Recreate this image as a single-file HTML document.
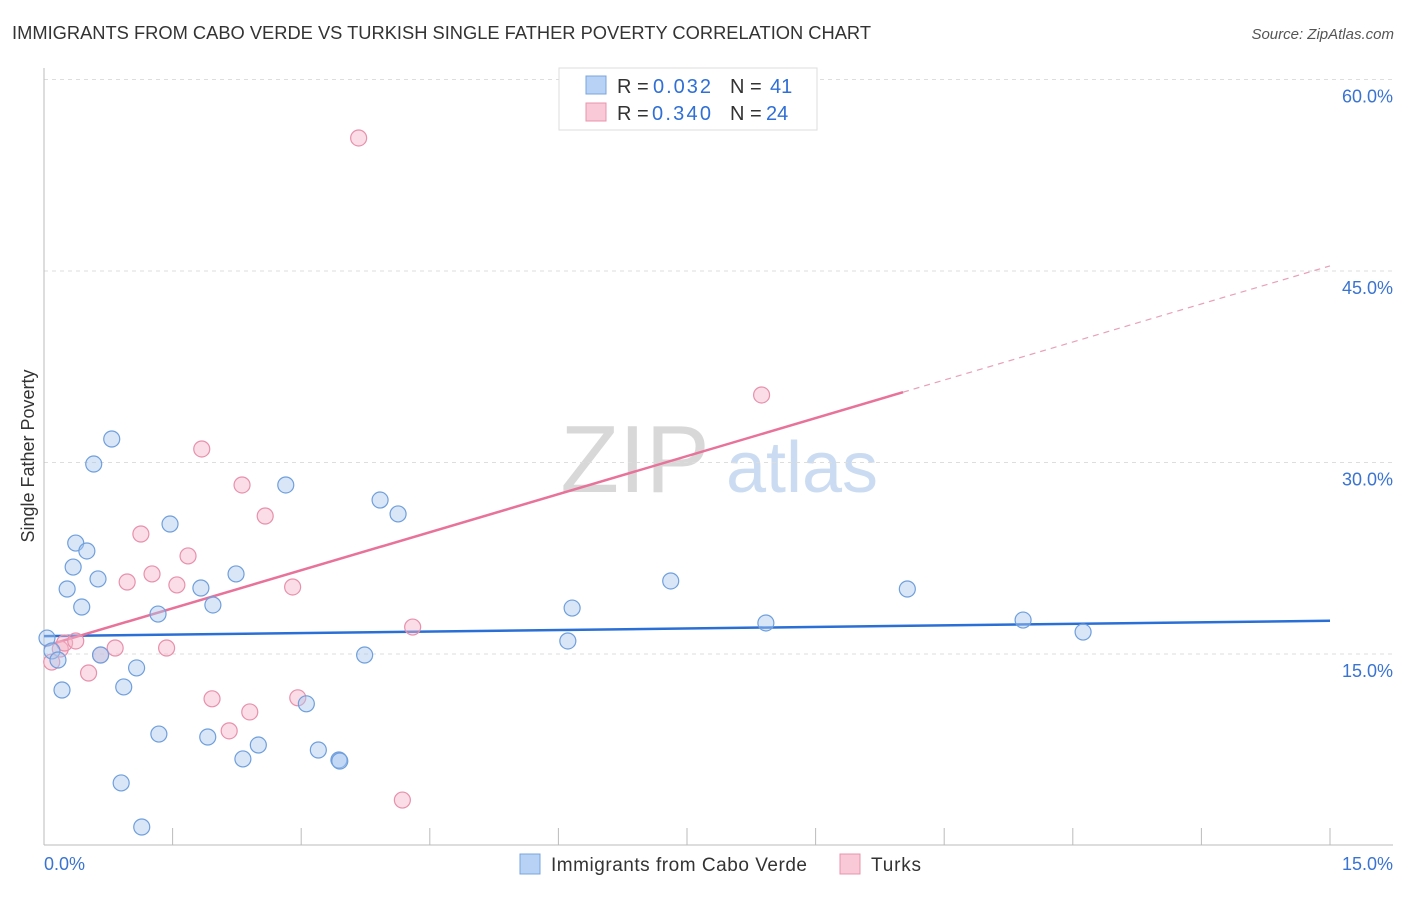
<!DOCTYPE html>
<html><head><meta charset="utf-8"><style>
body{margin:0;background:#fff;font-family:"Liberation Sans",sans-serif}
svg text{font-family:"Liberation Sans",sans-serif}
</style></head><body>
<svg id="chart" width="1406" height="892" xmlns="http://www.w3.org/2000/svg">
<text x="12" y="39" font-size="18" fill="#333" textLength="859" lengthAdjust="spacingAndGlyphs">IMMIGRANTS FROM CABO VERDE VS TURKISH SINGLE FATHER POVERTY CORRELATION CHART</text>
<text x="1394" y="39" font-size="15" fill="#555" text-anchor="end" font-style="italic">Source: ZipAtlas.com</text>
<text x="34" y="456" font-size="18" fill="#333" text-anchor="middle" transform="rotate(-90 34 456)">Single Father Poverty</text>
<text x="635" y="492" font-size="96" fill="#d8d8d8" text-anchor="middle" font-family="Liberation Serif">ZIP</text>
<text x="802" y="492" font-size="72" fill="#cbdcf2" text-anchor="middle">atlas</text>
<g id="grid"></g><g id="axes"></g><g id="trend"></g><g id="pts"></g>
<g>
<rect x="559" y="68" width="258" height="62" fill="#fff" stroke="#ddd"/>
<rect x="586" y="76" width="20" height="18" fill="#b7d2f5" stroke="#7aa5dd"/>
<text x="617" y="93" font-size="20" fill="#333">R = </text><text x="653" y="93" font-size="20" fill="#2f6fd6" textLength="58">0.032</text>
<text x="730" y="93" font-size="20" fill="#333">N = </text><text x="770" y="93" font-size="20" fill="#2f6fd6">41</text>
<rect x="586" y="103" width="20" height="18" fill="#f9c9d7" stroke="#e894ae"/>
<text x="617" y="120" font-size="20" fill="#333">R = </text><text x="652" y="120" font-size="20" fill="#2f6fd6" textLength="59">0.340</text>
<text x="730" y="120" font-size="20" fill="#333">N = </text><text x="766" y="120" font-size="20" fill="#2f6fd6">24</text>
</g>
<g>
<rect x="520" y="854" width="20" height="20" fill="#b7d2f5" stroke="#7aa5dd"/>
<text x="551" y="871" font-size="19" fill="#333" textLength="256">Immigrants from Cabo Verde</text>
<rect x="840" y="854" width="20" height="20" fill="#f9c9d7" stroke="#e894ae"/>
<text x="871" y="871" font-size="19" fill="#333" textLength="50">Turks</text>
</g>
</svg>
<script>
const blueX=[0.035,0.093,0.163,0.21,0.27,0.34,0.37,0.44,0.50,0.58,0.63,0.66,0.79,0.90,0.93,1.08,1.14,1.33,1.34,1.47,1.83,1.91,1.97,2.24,2.32,2.50,2.82,3.06,3.20,3.44,3.45,3.74,3.92,4.13,6.11,6.16,7.31,8.42,10.07,11.42,12.12];
const blueY=[16.25,15.24,14.53,12.18,20.09,21.81,23.69,18.68,23.07,29.88,20.88,14.92,31.84,4.90,12.42,13.91,1.45,18.13,8.73,25.18,20.17,8.50,18.84,21.27,6.78,7.87,28.24,11.10,7.48,6.70,6.62,14.92,27.06,25.97,16.02,18.60,20.72,17.43,20.09,17.66,16.72];
const pinkX=[0.09,0.19,0.24,0.37,0.52,0.66,0.83,0.97,1.13,1.26,1.43,1.55,1.68,1.84,1.96,2.16,2.31,2.40,2.58,2.90,2.96,3.67,4.18,4.30,8.37];
const pinkY=[14.37,15.39,15.86,16.02,13.51,14.92,15.47,20.64,24.40,21.27,15.47,20.41,22.68,31.06,11.49,8.98,28.24,10.46,25.81,20.25,11.57,55.42,3.56,17.11,35.29];
const yTicks=[15,30,45,60];
const xTickCount=10;
const blueTrend=[16.4,17.6];
const pinkTrend=[15.6,45.4];
const pinkSolidEnd=10.02;
const NS="http://www.w3.org/2000/svg";
const sx=v=>44+v/15*1286, sy=v=>845.5-v/15*191.5;
function mk(t,a,p){const e=document.createElementNS(NS,t);for(const k in a)e.setAttribute(k,a[k]);document.getElementById(p).appendChild(e);return e;}
yTicks.forEach(v=>{
 const l=mk('line',{x1:44,x2:1393,y1:sy(v),y2:sy(v),stroke:'#ddd','stroke-dasharray':'4,4'},'grid');
 
 
 const t=mk('text',{x:1393,y:sy(v)+23,'font-size':18,fill:'#3a74d0','text-anchor':'end'},'grid');t.textContent=v.toFixed(1)+'%';
 
 
});
mk('line',{x1:44,x2:44,y1:68,y2:845,stroke:'#bbb'},'axes');
mk('line',{x1:44,x2:1393,y1:845,y2:845,stroke:'#bbb'},'axes');
for(let i=0;i<=xTickCount;i++){const x=sx(i*15/xTickCount);const l=mk('line',{x1:x,x2:x,y1:828,y2:845,stroke:'#bbb'},'axes');
 
 }
let t=mk('text',{x:44,y:870,'font-size':18,fill:'#3a74d0'},'axes');t.textContent='0.0%';


t=mk('text',{x:1393,y:870,'font-size':18,fill:'#3a74d0','text-anchor':'end'},'axes');t.textContent='15.0%';


pinkX.forEach((x,i)=>{const c=mk('circle',{cx:sx(x),cy:sy(pinkY[i]),r:8,fill:'rgba(245,180,200,0.45)',stroke:'#e890ac','stroke-width':1.2},'pts');
 
 });
blueX.forEach((x,i)=>{const c=mk('circle',{cx:sx(x),cy:sy(blueY[i]),r:8,fill:'rgba(168,200,240,0.45)',stroke:'#6f9fdc','stroke-width':1.2},'pts');
 
 });
const pAt=v=>pinkTrend[0]+(pinkTrend[1]-pinkTrend[0])*v/15;
let l=mk('line',{x1:sx(0),y1:sy(blueTrend[0]),x2:sx(15),y2:sy(blueTrend[1]),stroke:'#2a6fd6','stroke-width':2.5},'trend');


l=mk('line',{x1:sx(0),y1:sy(pinkTrend[0]),x2:sx(pinkSolidEnd),y2:sy(pAt(pinkSolidEnd)),stroke:'#e8729a','stroke-width':2.5},'trend');


l=mk('line',{x1:sx(pinkSolidEnd),y1:sy(pAt(pinkSolidEnd)),x2:sx(15),y2:sy(pinkTrend[1]),stroke:'#e8a0b8','stroke-width':1.2,'stroke-dasharray':'6,5'},'trend');


</script>
</body></html>
